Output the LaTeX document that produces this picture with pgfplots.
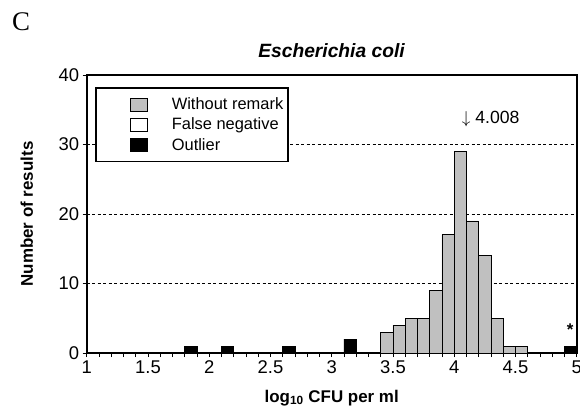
\documentclass[border=0pt]{standalone}
\usepackage{fontspec}
\setmainfont{Liberation Sans}
\newfontfamily\serifC{Liberation Serif}
\usepackage{pgfplots}
\pgfplotsset{compat=1.18}
\definecolor{barGray}{RGB}{192,192,192}
\pgfplotsset{
  boxlegend/.style={legend image code/.code={%
    \path[draw=none,fill=none] (0bp,0bp) -- (71bp,0bp);
    \draw[##1,line width=0.7bp] (32bp,-6.5bp) rectangle (48.5bp,6.5bp);}},
}
\begin{document}
\begin{tikzpicture}
\path[use as bounding box] (0,0) rectangle (580bp,416bp);
\node[font=\serifC\fontsize{27}{30}\selectfont] at (21bp,394bp) {C};
\begin{axis}[
  at={(86.7bp,63bp)}, anchor=south west,
  scale only axis, width=490bp, height=278bp,
  xmin=1, xmax=5, ymin=0, ymax=40,
  xtick={1,1.5,...,5}, minor x tick num=4,
  ytick={0,10,20,30,40},
  tick pos=left, tick align=outside,
  major tick length=4bp, minor tick length=4bp,
  tick style={black, line width=0.8bp},
  axis line style={line width=1.8bp},
  ymajorgrids, major grid style={black, line width=0.8bp, dash pattern=on 3bp off 2.5bp},
  /pgf/number format/assume math mode=true,
  ticklabel style={font=\fontsize{18.5}{20}\selectfont},
  xlabel={\textbf{log\textsubscript{10} CFU per ml}},
  ylabel={\textbf{Number of results}},
  label style={font=\fontsize{17}{19}\selectfont},
  xlabel style={at={(axis description cs:0.5,-0.162)}, anchor=center},
  ylabel style={at={(axis description cs:-0.122,0.5)}, anchor=center},
  title={\textbf{\textit{Escherichia coli}}},
  title style={font=\fontsize{19.3}{21}\selectfont, at={(axis description cs:0.5,1.065)}, anchor=center},
  legend cell align=left,
  legend style={at={(axis description cs:0.017,0.957)}, anchor=north west,
    draw=black, line width=1.6bp, fill=white,
    font=\fontsize{16.5}{18}\selectfont,
    inner xsep=3bp, inner ysep=8bp, row sep=2.8bp,
    nodes={inner sep=2bp}},
]
\addplot[ybar interval, fill=barGray, draw=black, line width=0.7bp, boxlegend] coordinates {
 (3.4,3) (3.5,4) (3.6,5) (3.7,5) (3.8,9) (3.9,17) (4.0,29) (4.1,19)
 (4.2,14) (4.3,5) (4.4,1) (4.5,1) (4.6,1)};
\addlegendentry{Without remark}
\addlegendimage{boxlegend, fill=white, draw=black}
\addlegendentry{False negative}
\addplot[ybar interval, fill=black, draw=black, line width=0.7bp, boxlegend] coordinates {
 (1.8,1) (1.9,0) (2.1,1) (2.2,0) (2.6,1) (2.7,0) (3.1,2) (3.2,0) (4.9,1) (5.0,1)};
\addlegendentry{Outlier}
\node[anchor=west, inner sep=0pt, font=\fontsize{17.7}{20}\selectfont] at (axis cs:4.061,33.7) {$\downarrow$ 4.008};
\node[font=\bfseries\fontsize{17}{20}\selectfont] at (axis cs:4.946,3.3) {*};
\end{axis}
\end{tikzpicture}
\end{document}
